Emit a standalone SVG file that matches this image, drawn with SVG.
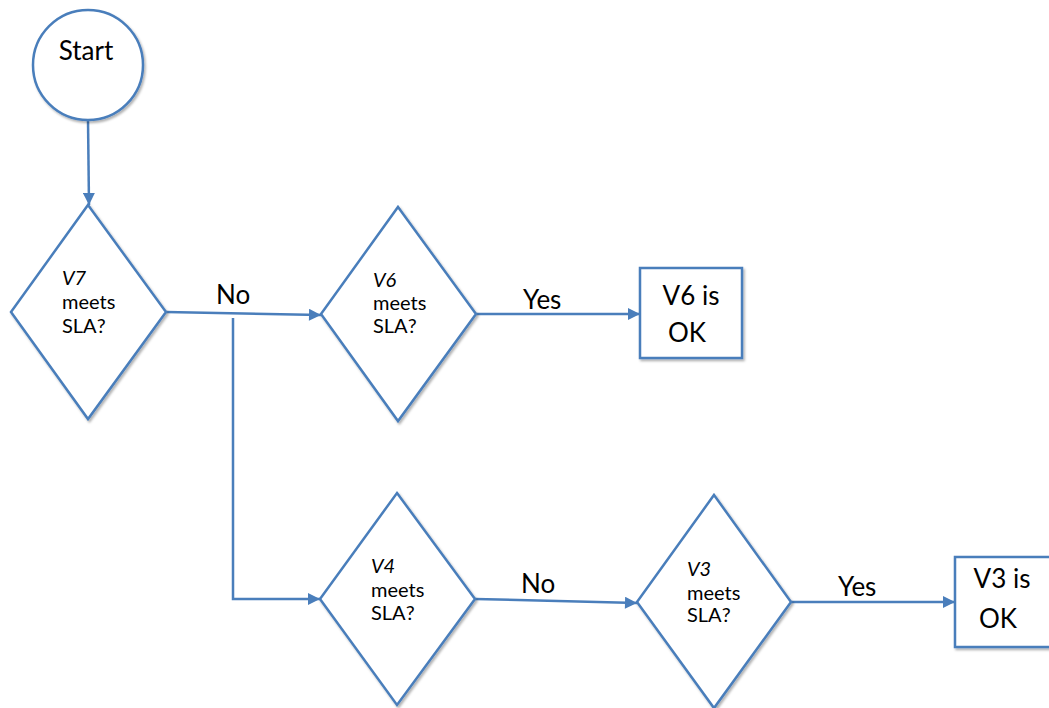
<svg xmlns="http://www.w3.org/2000/svg" width="1049" height="708" viewBox="0 0 1049 708">
  <style>
    .shape { fill: #ffffff; stroke: #4a7ebb; stroke-width: 2.5; filter: url(#shadow); }
    .conn { fill: none; stroke: #4a7ebb; stroke-width: 2.5; }
    .q { font-family: Lato, "Liberation Sans", Arial, sans-serif; font-size: 20px; fill: #000; }
    .q .v { font-style: italic; }
    .lbl { font-family: Lato, "Liberation Sans", Arial, sans-serif; font-size: 26px; fill: #000; }
  </style>
  <defs>
    <filter id="shadow" x="-10%" y="-10%" width="130%" height="130%">
      <feDropShadow dx="1.5" dy="2" stdDeviation="1.2" flood-color="#000" flood-opacity="0.3"/>
    </filter>
    <marker id="arrow" viewBox="0 0 10 10" refX="10" refY="5" markerWidth="5.2" markerHeight="4.8" markerUnits="strokeWidth" orient="auto">
      <path d="M0,0 L10,5 L0,10 Z" fill="#4a7ebb"/>
    </marker>
  </defs>

  <!-- connectors -->
  <g id="connectors">
    <path class="conn" d="M88,120 L89,205" marker-end="url(#arrow)"/>
    <path class="conn" d="M166,312 L321,315" marker-end="url(#arrow)"/>
    <path class="conn" d="M233,318 L233,599 L320,599" marker-end="url(#arrow)"/>
    <path class="conn" d="M476,314 L640,314" marker-end="url(#arrow)"/>
    <path class="conn" d="M475,599 L637,603" marker-end="url(#arrow)"/>
    <path class="conn" d="M791,602 L955,602" marker-end="url(#arrow)"/>
    <text class="lbl" x="216" y="304">No</text>
    <text class="lbl" x="523" y="309">Yes</text>
    <text class="lbl" x="521" y="593">No</text>
    <text class="lbl" x="838" y="596">Yes</text>
  </g>

  <g id="start">
    <circle class="shape" cx="88" cy="65" r="55"/>
    <text class="lbl" x="86" y="60" text-anchor="middle">Start</text>
  </g>

  <g id="v7">
    <polygon class="shape" points="88,205 166,312 88,419 11,312"/>
    <text class="q"><tspan class="v" x="62" y="285">V7</tspan><tspan x="62" y="309">meets</tspan><tspan x="62" y="333">SLA?</tspan></text>
  </g>

  <g id="v6">
    <polygon class="shape" points="398,207 476,314 398,421 321,314"/>
    <text class="q"><tspan class="v" x="373" y="287">V6</tspan><tspan x="373" y="310">meets</tspan><tspan x="373" y="333">SLA?</tspan></text>
  </g>

  <g id="v6ok">
    <rect class="shape" x="640" y="268" width="102" height="90"/>
    <text class="lbl" text-anchor="middle"><tspan x="691" y="305">V6 is</tspan><tspan x="687" y="342">OK</tspan></text>
  </g>

  <g id="v4">
    <polygon class="shape" points="397,493 475,599 397,705 320,599"/>
    <text class="q"><tspan class="v" x="371" y="573">V4</tspan><tspan x="371" y="597">meets</tspan><tspan x="371" y="620">SLA?</tspan></text>
  </g>

  <g id="v3">
    <polygon class="shape" points="714,495 791,602 714,708 637,602"/>
    <text class="q"><tspan class="v" x="687" y="576">V3</tspan><tspan x="687" y="600">meets</tspan><tspan x="687" y="622">SLA?</tspan></text>
  </g>

  <g id="v3ok">
    <rect class="shape" x="955" y="557" width="102" height="90"/>
    <text class="lbl" text-anchor="middle"><tspan x="1002" y="588">V3 is</tspan><tspan x="998" y="628">OK</tspan></text>
  </g>
</svg>
